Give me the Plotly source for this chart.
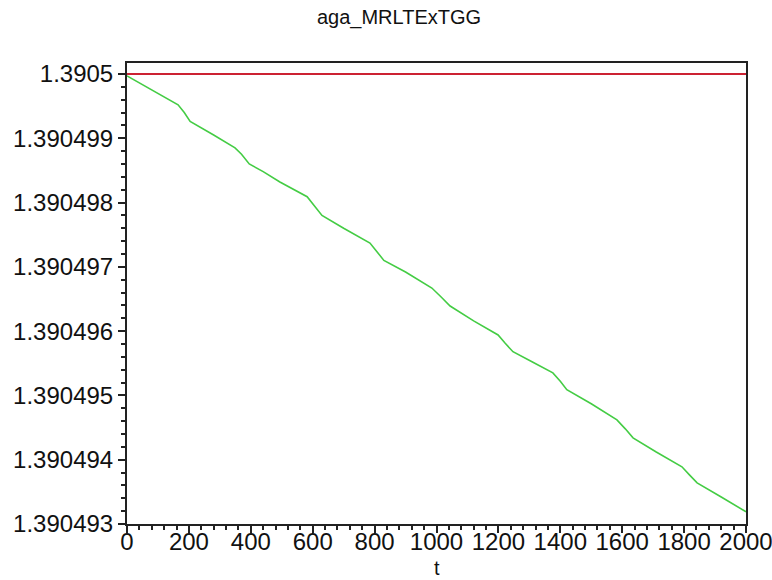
import plotly.graph_objects as go

# Reference level (constant) and the drifting solution sampled along t
t_vals = [0, 80, 165, 185, 204, 280, 349, 370, 395, 440, 494, 582, 605, 630, 700,
          785, 805, 830, 900, 985, 1015, 1044, 1120, 1199, 1222, 1247, 1310, 1376,
          1400, 1421, 1500, 1583, 1610, 1635, 1710, 1793, 1818, 1842, 1920, 2000]
# offset below 1.3905, in units of 1e-6
drop_e6 = [0.03, 0.25, 0.48, 0.60, 0.74, 0.95, 1.15, 1.25, 1.40, 1.52, 1.68, 1.91,
           2.05, 2.20, 2.40, 2.63, 2.75, 2.90, 3.08, 3.33, 3.47, 3.61, 3.84, 4.06,
           4.19, 4.32, 4.48, 4.65, 4.78, 4.91, 5.13, 5.38, 5.52, 5.66, 5.88, 6.11,
           6.24, 6.36, 6.58, 6.81]
base_level = 1.3905
ref_t = [0, 2000]
ref_val = [1.3905, 1.3905]

y_ticks = [1.390493, 1.390494, 1.390495, 1.390496, 1.390497, 1.390498, 1.390499, 1.3905]
y_labels = ["1.390493", "1.390494", "1.390495", "1.390496", "1.390497", "1.390498",
            "1.390499", "1.3905"]
x_ticks = [0, 200, 400, 600, 800, 1000, 1200, 1400, 1600, 1800, 2000]

sol_val = [base_level - d * 1e-6 for d in drop_e6]

fig = go.Figure()
fig.add_trace(go.Scatter(x=ref_t, y=ref_val, mode="lines",
                         line=dict(color="#cc2233", width=2), showlegend=False))
fig.add_trace(go.Scatter(x=t_vals, y=sol_val, mode="lines",
                         line=dict(color="#44cc44", width=1.6), showlegend=False))

font_family = "Liberation Sans, Arial, sans-serif"

y_minor = []
for i in range(len(y_ticks) - 1):
    for k in range(1, 5):
        y_minor.append(y_ticks[i] + k * 2e-7)

fig.update_layout(
    width=772, height=580,
    margin=dict(l=127, r=26, t=63, b=56),
    paper_bgcolor="white", plot_bgcolor="white",
    font=dict(family=font_family, color="#111111", size=24),
    title=dict(text="aga_MRLTExTGG", x=399 / 772, xanchor="center",
               y=1 - 17 / 580, yanchor="middle",
               font=dict(family=font_family, size=20, color="#111111")),
    xaxis=dict(range=[0, 2000], tickmode="array", tickvals=x_ticks,
               ticks="outside", ticklen=7, tickwidth=1.5, tickcolor="#222222",
               showline=True, linecolor="#222222", linewidth=2, mirror=True,
               showgrid=False, zeroline=False, automargin=False,
               tickfont=dict(size=24), ticklabeloverflow="allow",
               ticklabelstandoff=-12,
               minor=dict(dtick=40, ticks="outside", ticklen=4, tickwidth=1.5,
                          tickcolor="#222222", showgrid=False)),
    yaxis=dict(range=[1.390493, 1.39050017], tickmode="array", tickvals=y_ticks,
               ticktext=y_labels,
               ticks="outside", ticklen=7, tickwidth=1.5, tickcolor="#222222",
               showline=True, linecolor="#222222", linewidth=2, mirror=True,
               showgrid=False, zeroline=False, automargin=False,
               tickfont=dict(size=24), ticklabeloverflow="allow",
               minor=dict(tickmode="array", tickvals=y_minor, ticks="outside",
                          ticklen=4, tickwidth=1.5, tickcolor="#222222",
                          showgrid=False)),
    annotations=[dict(text="t", xref="paper", yref="paper", x=0.5, y=-44 / 461,
                      xanchor="center", yanchor="middle", showarrow=False,
                      font=dict(family=font_family, size=20, color="#111111"))],
)

fig.write_html("out.html")
